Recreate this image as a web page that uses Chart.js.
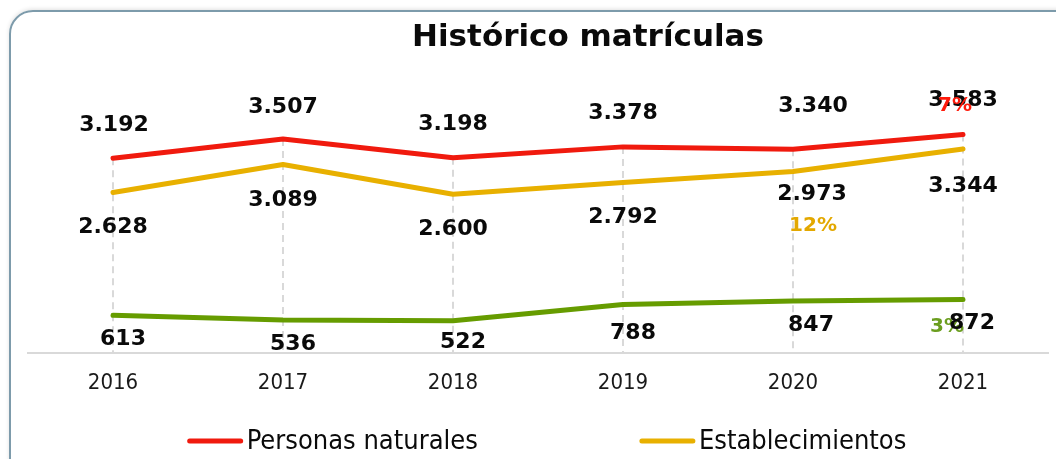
<!DOCTYPE html>
<html>
<head>
<meta charset="utf-8">
<script src="https://cdn.jsdelivr.net/npm/chart.js@4.4.1/dist/chart.umd.min.js"></script>
<style>
  html, body { margin: 0; padding: 0; background: #fff; overflow: hidden; }
  #frame {
    position: absolute; left: 9px; top: 10px; width: 1100px; height: 520px;
    border: 2px solid #7d9bab; border-radius: 24px;
    box-shadow: 0 -1px 4px rgba(0, 0, 0, 0.12);
  }
  #wrap { position: absolute; left: 0; top: 0; width: 1056px; height: 459px; }
</style>
</head>
<body>
<div id="frame"></div>
<div id="wrap"><canvas id="chart" width="1056" height="459"></canvas></div>
<script>
// Data
const chartTitle = 'Histórico matrículas';
const years = ['2016', '2017', '2018', '2019', '2020', '2021'];
const personasNaturales = [3192, 3507, 3198, 3378, 3340, 3583];
const establecimientos = [2628, 3089, 2600, 2792, 2973, 3344];
const serie3 = [613, 536, 522, 788, 847, 872];
const growthLabels = ['7%', '12%', '3%'];

const condensed = "'DejaVu Sans Condensed', 'DejaVu Sans', sans-serif";
const plain = "'DejaVu Sans', sans-serif";

// 3192 -> "3.192"
function fmt(v) {
  return String(v).replace(/\B(?=(\d{3})+(?!\d))/g, '.');
}

// dashed drop lines from highest point to the axis
const dropLines = {
  id: 'dropLines',
  beforeDatasetsDraw(chart) {
    const { ctx, chartArea } = chart;
    const x = chart.scales.x, y = chart.scales.y;
    ctx.save();
    ctx.strokeStyle = '#d9d9d9';
    ctx.lineWidth = 2;
    ctx.setLineDash([7, 5]);
    chart.data.labels.forEach((lbl, i) => {
      const top = Math.max(...chart.data.datasets.map(ds => ds.data[i]));
      const px = x.getPixelForValue(i);
      ctx.beginPath();
      ctx.moveTo(px, y.getPixelForValue(top));
      ctx.lineTo(px, chartArea.bottom);
      ctx.stroke();
    });
    ctx.restore();
  }
};

const valueLabels = {
  id: 'valueLabels',
  afterDatasetsDraw(chart, args, opts) {
    const ctx = chart.ctx;
    ctx.save();
    ctx.textAlign = 'center';
    ctx.textBaseline = 'middle';

    // growth labels that sit under the values
    const drawGrowth = (g) => {
      const pt = chart.getDatasetMeta(g.dataset).data[g.index];
      ctx.font = 'bold 20px ' + plain;
      ctx.fillStyle = g.color;
      ctx.fillText(growthLabels[g.label], pt.x + g.dx, pt.y + g.dy);
    };
    opts.growth.filter(g => g.under).forEach(drawGrowth);

    ctx.font = 'bold 22px ' + plain;
    ctx.fillStyle = '#0a0a0a';
    chart.data.datasets.forEach((ds, di) => {
      const meta = chart.getDatasetMeta(di);
      const off = opts.offsets[di];
      meta.data.forEach((pt, i) => {
        const o = (off.at && off.at[i]) || off.base;
        ctx.fillText(fmt(ds.data[i]), pt.x + o[0], pt.y + o[1]);
      });
    });

    opts.growth.filter(g => !g.under).forEach(drawGrowth);
    ctx.restore();
  }
};

const titleAndLegend = {
  id: 'titleAndLegend',
  afterDraw(chart, args, opts) {
    const ctx = chart.ctx;
    ctx.save();
    ctx.fillStyle = '#0a0a0a';
    ctx.font = 'bold 31px ' + plain;
    ctx.textAlign = 'center';
    ctx.textBaseline = 'alphabetic';
    ctx.fillText(chartTitle, opts.titleX, opts.titleY);

    // legend (only the first two series are visible in the original)
    const items = chart.data.datasets.filter(ds => ds.label);
    ctx.font = '27px ' + condensed;
    ctx.textAlign = 'left';
    ctx.textBaseline = 'middle';
    const widths = items.map(ds => opts.lineLen + opts.textGap + ctx.measureText(ds.label).width);
    const total = widths.reduce((a, b) => a + b, 0) + opts.gap * (items.length - 1);
    let x = opts.legendX - total / 2;
    items.forEach((ds, i) => {
      ctx.strokeStyle = ds.borderColor;
      ctx.lineWidth = 5;
      ctx.lineCap = 'round';
      ctx.beginPath();
      ctx.moveTo(x + 2, opts.legendY);
      ctx.lineTo(x + opts.lineLen - 2, opts.legendY);
      ctx.stroke();
      ctx.fillStyle = '#0a0a0a';
      ctx.fillText(ds.label, x + opts.lineLen + opts.textGap, opts.legendY + 1);
      x += widths[i] + opts.gap;
    });
    ctx.restore();
  }
};

const ctx = document.getElementById('chart');

new Chart(ctx, {
  type: 'line',
  data: {
    labels: years,
    datasets: [{
      label: 'Personas naturales',
      data: personasNaturales,
      borderColor: '#f01a0e'
    }, {
      label: 'Establecimientos',
      data: establecimientos,
      borderColor: '#e8b000'
    }, {
      label: '',
      data: serie3,
      borderColor: '#669c00'
    }]
  },
  options: {
    responsive: false,
    animation: false,
    layout: { padding: { top: 109, left: 28, right: 8, bottom: 46 } },
    elements: {
      line: { borderWidth: 5, tension: 0, borderCapStyle: 'round', borderJoinStyle: 'round', fill: false },
      point: { radius: 0, hoverRadius: 0 }
    },
    plugins: {
      legend: { display: false },
      title: { display: false },
      tooltip: { enabled: false },
      valueLabels: {
        offsets: [
          { base: [0, -34], at: { 0: [1, -33], 1: [0, -32], 4: [20, -43] } },
          { base: [0, 35], at: { 1: [0, 36], 4: [19, 23], 5: [0, 37] } },
          { base: [10, 24], at: { 2: [10, 21], 3: [10, 29], 4: [18, 24], 5: [9, 24] } }
        ],
        growth: [
          { label: 0, dataset: 0, index: 5, dx: -8, dy: -29, color: '#ff1a0a' },
          { label: 1, dataset: 1, index: 4, dx: 20, dy: 54, color: '#e3a800' },
          { label: 2, dataset: 2, index: 5, dx: -16, dy: 27, color: '#6b9e1f', under: true }
        ]
      },
      titleAndLegend: {
        titleX: 588, titleY: 46,
        legendX: 547, legendY: 441, gap: 162, lineLen: 55, textGap: 4
      }
    },
    scales: {
      x: {
        offset: true,
        grid: { display: false, drawTicks: false },
        border: { display: true, color: '#d9d9d9', width: 2 },
        ticks: { padding: 17, color: '#1a1a1a', font: { family: condensed, size: 22 } }
      },
      y: { display: false, min: 0, max: 4000 }
    }
  },
  plugins: [dropLines, valueLabels, titleAndLegend]
});
</script>
</body>
</html>
